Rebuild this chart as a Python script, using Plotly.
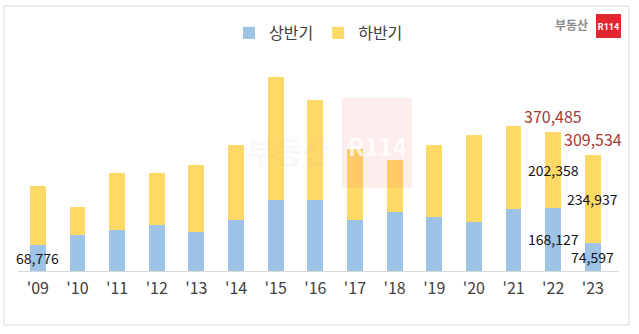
import plotly.graph_objects as go

# Apartment supply by half-year (units)
years = ["'09", "'10", "'11", "'12", "'13", "'14", "'15", "'16",
         "'17", "'18", "'19", "'20", "'21", "'22", "'23"]
first_half = [68776, 96200, 109500, 122900, 104200, 135400, 188700, 188700,
              135400, 156700, 144200, 130100, 165500, 168127, 74597]
second_half = [158000, 74600, 151900, 138500, 178600, 200700, 328600, 265700,
               188400, 138600, 191100, 231800, 221200, 202358, 234937]

BLUE = "#9dc3e6"
YELLOW = "#ffd966"
RED = "#a83a36"
FONT = "Noto Sans CJK KR"

# pixel -> paper helpers for decorations (plot area: x 18..619, y 60..271)
L, R, T, B = 18, 619, 60, 271


def px(x):
    return (x - L) / (R - L)


def py(y):
    return (B - y) / (B - T)


fig = go.Figure()
fig.add_trace(go.Bar(x=years, y=first_half, name="상반기", marker_color=BLUE,
                     marker_line_width=0, width=0.4))
fig.add_trace(go.Bar(x=years, y=second_half, name="하반기", marker_color=YELLOW,
                     marker_line_width=0, width=0.4))

annotations = []
# first-half values inside the blue segment
for i in (0, 13, 14):
    annotations.append(dict(x=years[i], y=first_half[i] / 2, text=f"{first_half[i]:,}",
                            showarrow=False, font=dict(size=14, color="#111111", family=FONT)))
# second-half values inside the yellow segment
for i in (13, 14):
    annotations.append(dict(x=years[i], y=first_half[i] + second_half[i] / 2,
                            text=f"{second_half[i]:,}", showarrow=False,
                            font=dict(size=14, color="#111111", family=FONT)))
# totals above the bars
for i in (13, 14):
    total = first_half[i] + second_half[i]
    annotations.append(dict(x=years[i], y=total, text=f"{total:,}", showarrow=False,
                            yanchor="bottom", yshift=2,
                            font=dict(size=16, color=RED, family=FONT)))

# faint watermark text
annotations.append(dict(xref="paper", yref="paper", x=px(288), y=py(150), text="<b>부동산</b>",
                        showarrow=False, font=dict(size=30, color="rgba(150,150,150,0.08)",
                                                   family=FONT)))
annotations.append(dict(xref="paper", yref="paper", x=px(377), y=py(145), text="<b>R114</b>",
                        showarrow=False, font=dict(size=24, color="rgba(255,255,255,0.8)",
                                                   family=FONT)))

shapes = [
    # outer frame
    dict(type="rect", xref="paper", yref="paper", x0=px(4), x1=px(629), y0=py(325), y1=py(6),
         line=dict(color="#d9d9d9", width=1), fillcolor="rgba(0,0,0,0)", layer="below"),
    # corner logo: grey wordmark + red box
    dict(type="rect", xref="paper", yref="paper", x0=px(553), x1=px(590), y0=py(36), y1=py(16),
         line=dict(width=0), fillcolor="rgba(0,0,0,0)", layer="above",
         label=dict(text="<b>부동산</b>", textposition="middle center",
                    font=dict(size=12, color="#8a8a8a", family=FONT))),
    dict(type="rect", xref="paper", yref="paper", x0=px(596), x1=px(621), y0=py(38), y1=py(14),
         line=dict(width=0), fillcolor="#e0282e", layer="above",
         label=dict(text="<b>R114</b>", textposition="middle center",
                    font=dict(size=9, color="white", family="Roboto"))),
    # watermark box
    dict(type="rect", xref="paper", yref="paper", x0=px(342), x1=px(412), y0=py(188), y1=py(98),
         line=dict(width=0), fillcolor="rgba(235,80,80,0.10)", layer="above"),
]

fig.update_layout(
    width=639, height=334,
    margin=dict(l=L, r=639 - R, t=T, b=334 - B),
    barmode="stack",
    paper_bgcolor="white", plot_bgcolor="white",
    font=dict(family=FONT, color="#404040"),
    showlegend=True,
    legend=dict(orientation="h", x=0.5, xanchor="center", y=py(33), yanchor="middle",
                traceorder="normal", font=dict(size=16, color="#404040", family=FONT),
                itemwidth=30, itemsizing="constant"),
    annotations=annotations,
    shapes=shapes,
)
fig.update_xaxes(type="category", range=[-0.5, 14.66], showgrid=False, showline=True,
                 linecolor="#d9d9d9", linewidth=1, ticks="outside", ticklen=3,
                 tickcolor="rgba(0,0,0,0)", tickfont=dict(size=16, color="#404040", family=FONT))
fig.update_yaxes(range=[0, 561800], visible=False, showgrid=False)

fig.write_html("out.html")
